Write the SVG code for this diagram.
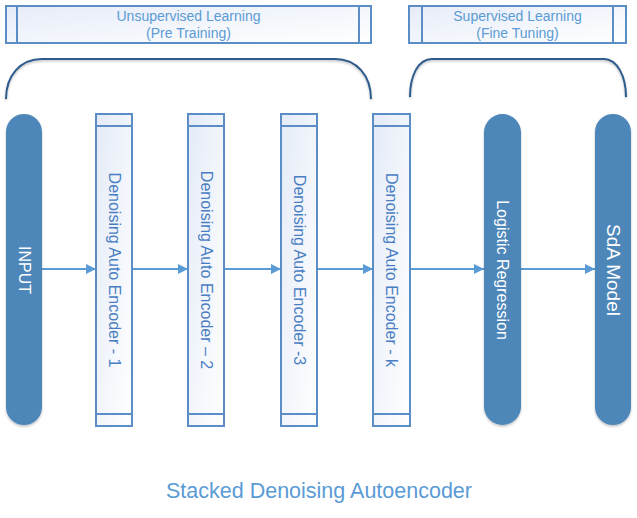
<svg xmlns="http://www.w3.org/2000/svg" width="637" height="518" viewBox="0 0 637 518">
<defs>
<linearGradient id="g" x1="0" y1="0" x2="1" y2="1">
<stop offset="0" stop-color="#e4ebf7"/>
<stop offset="1" stop-color="#ffffff"/>
</linearGradient>
<linearGradient id="gh" x1="0" y1="0" x2="1" y2="1">
<stop offset="0" stop-color="#e6ecf8"/>
<stop offset="1" stop-color="#ffffff"/>
</linearGradient>
<marker id="ah" viewBox="0 0 10 10" refX="10" refY="5" markerWidth="10" markerHeight="10" markerUnits="userSpaceOnUse" orient="auto">
<path d="M0,0 L10,5 L0,10 Z" fill="#5b9bd5"/>
</marker>
<filter id="sh" x="-10%" y="-10%" width="120%" height="130%">
<feDropShadow dx="0" dy="1.5" stdDeviation="1.2" flood-color="#000" flood-opacity="0.25"/>
</filter>
</defs>
<style>
.box{fill:url(#gh);stroke:#5b8ec6;stroke-width:2}
.div{stroke:#5b8ec6;stroke-width:2;fill:none}
.enc{fill:url(#g);stroke:#5b8ec6;stroke-width:2}
.pill{fill:#4e86b9;filter:url(#sh)}
.hd{font-family:"Liberation Sans",Arial,sans-serif;font-size:14px;fill:#5b9bd5;text-anchor:middle}
.et{font-family:"Liberation Sans",Arial,sans-serif;font-size:16px;fill:#4a7ec3;text-anchor:middle;dominant-baseline:central}
.wt{font-family:"Liberation Sans",Arial,sans-serif;font-size:16px;fill:#ffffff;text-anchor:middle;dominant-baseline:central}
.br{fill:none;stroke:#2e5b8c;stroke-width:2;filter:url(#sh)}
.cn{stroke:#5b9bd5;stroke-width:2;fill:none;marker-end:url(#ah)}
.title{font-family:"Liberation Sans",Arial,sans-serif;font-size:21.5px;fill:#5b9bd5;text-anchor:middle}
</style>

<g id="unsupervised">
<rect class="box" x="6" y="6" width="365" height="37"/>
<line class="div" x1="17" y1="6" x2="17" y2="43"/>
<line class="div" x1="359" y1="6" x2="359" y2="43"/>
<text class="hd" x="188.5" y="20.5">Unsupervised Learning</text>
<text class="hd" x="188.5" y="38">(Pre Training)</text>
</g>

<g id="supervised">
<rect class="box" x="409" y="6" width="217" height="37"/>
<line class="div" x1="422" y1="6" x2="422" y2="43"/>
<line class="div" x1="613" y1="6" x2="613" y2="43"/>
<text class="hd" x="517.5" y="20.5">Supervised Learning</text>
<text class="hd" x="517.5" y="38">(Fine Tuning)</text>
</g>

<g id="brackets">
<path class="br" d="M6,99 C6,76 20,59 42,59 H335 C357,59 371,76 371,99"/>
<path class="br" d="M410,97 C410,76 418,59 432,59 H604 C617,59 626,76 626,97"/>
</g>

<g id="connectors">
<line class="cn" x1="42" y1="269" x2="96" y2="269"/>
<line class="cn" x1="132" y1="269" x2="188" y2="269"/>
<line class="cn" x1="224" y1="269" x2="281" y2="269"/>
<line class="cn" x1="317" y1="269" x2="373" y2="269"/>
<line class="cn" x1="410" y1="269" x2="484" y2="269"/>
<line class="cn" x1="521" y1="269" x2="595" y2="269"/>
</g>

<g id="input">
<rect class="pill" x="6" y="114" width="36" height="311" rx="18" ry="18"/>
<text class="wt" transform="translate(24,270) rotate(90)">INPUT</text>
</g>

<g id="encoder1">
<rect class="enc" x="96" y="114" width="36" height="312"/>
<line class="div" x1="96" y1="126" x2="132" y2="126"/>
<line class="div" x1="96" y1="414" x2="132" y2="414"/>
<text class="et" transform="translate(114,270) rotate(90)">Denoising Auto Encoder - 1</text>
</g>

<g id="encoder2">
<rect class="enc" x="188" y="114" width="36" height="312"/>
<line class="div" x1="188" y1="126" x2="224" y2="126"/>
<line class="div" x1="188" y1="414" x2="224" y2="414"/>
<text class="et" transform="translate(206,270) rotate(90)">Denoising Auto Encoder – 2</text>
</g>

<g id="encoder3">
<rect class="enc" x="281" y="114" width="36" height="312"/>
<line class="div" x1="281" y1="126" x2="317" y2="126"/>
<line class="div" x1="281" y1="414" x2="317" y2="414"/>
<text class="et" transform="translate(299,270) rotate(90)">Denoising Auto Encoder -3</text>
</g>

<g id="encoderk">
<rect class="enc" x="373" y="114" width="37" height="312"/>
<line class="div" x1="373" y1="126" x2="410" y2="126"/>
<line class="div" x1="373" y1="414" x2="410" y2="414"/>
<text class="et" transform="translate(391.5,270) rotate(90)">Denoising Auto Encoder - k</text>
</g>

<g id="logistic">
<rect class="pill" x="484" y="114" width="37" height="311" rx="18.5" ry="18.5"/>
<text class="wt" transform="translate(502.5,270) rotate(90)">Logistic Regression</text>
</g>

<g id="sda">
<rect class="pill" x="595" y="114" width="36" height="311" rx="18" ry="18"/>
<text class="wt" style="font-size:19px" transform="translate(613,270) rotate(90)">SdA Model</text>
</g>

<text class="title" x="319" y="498">Stacked Denoising Autoencoder</text>
</svg>
